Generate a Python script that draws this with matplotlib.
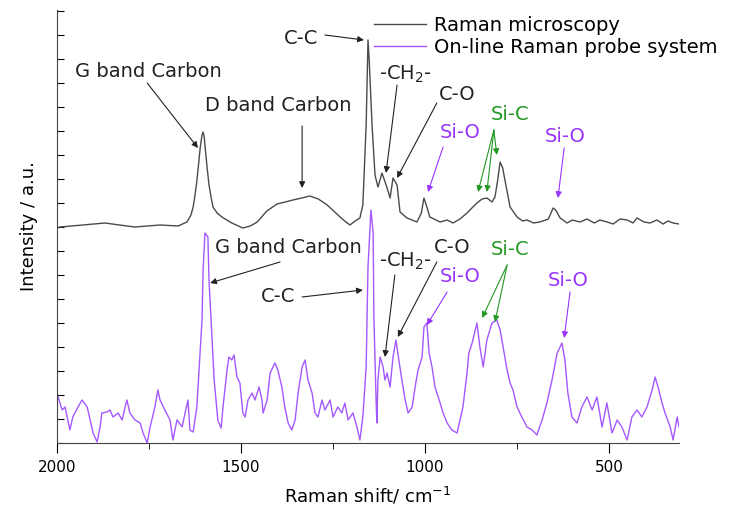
import matplotlib.pyplot as plt
from matplotlib.ticker import MultipleLocator

plt.rcParams['font.family'] = 'DejaVu Sans'

# Raman microscopy spectrum (offset upwards)
micro_shift = [1992, 1930, 1870, 1830, 1788, 1720, 1671, 1647, 1636, 1630, 1625, 1620,
               1615, 1611, 1606, 1603, 1600, 1596, 1592, 1587, 1580, 1576, 1565, 1552,
               1525, 1495, 1475, 1456, 1430, 1402, 1380, 1359, 1335, 1313, 1290, 1266,
               1248, 1231, 1215, 1204, 1190, 1177, 1169, 1160, 1155, 1152, 1144, 1136,
               1128, 1117, 1103, 1095, 1087, 1076, 1068, 1049, 1022, 1010, 1003, 995,
               987, 959, 940, 924, 905, 886, 870, 859, 845, 832, 818, 810, 803, 796,
               789, 783, 769, 750, 735, 723, 705, 688, 665, 652, 645, 633, 614, 600,
               579, 560, 540, 525, 505, 489, 470, 451, 435, 424, 405, 389, 370, 353,
               340, 326, 310]
micro_int = [216, 218, 220, 218, 216, 218, 217, 221, 228, 236, 248, 262,
             280, 295, 308, 311, 306, 290, 275, 258, 243, 236, 230, 226,
             220, 215, 217, 221, 232, 239, 241, 243, 245, 247, 244, 238,
             232, 226, 221, 218, 222, 225, 238, 318, 403, 385, 318, 268,
             256, 270, 255, 245, 265, 258, 231, 225, 221, 230, 245, 236,
             226, 221, 223, 220, 224, 230, 236, 240, 244, 245, 241, 246, 262, 281,
             275, 263, 236, 226, 222, 223, 220, 221, 224, 235, 233, 225, 220, 223,
             221, 224, 220, 223, 221, 219, 224, 223, 220, 225, 221, 220, 223, 219,
             222, 220, 219]

# On-line Raman probe spectrum
probe_shift = [1997, 1986, 1978, 1965, 1957, 1943, 1932, 1918, 1910, 1902, 1891, 1883,
               1878, 1864, 1856, 1848, 1834, 1823, 1815, 1810, 1802, 1788, 1774, 1766,
               1755, 1747, 1734, 1726, 1720, 1707, 1693, 1685, 1674, 1660, 1652, 1644,
               1639, 1630, 1620, 1614, 1606, 1603, 1598, 1590, 1587, 1579, 1573, 1563,
               1554, 1549, 1538, 1533, 1525, 1519, 1511, 1503, 1495, 1489, 1481, 1470,
               1462, 1451, 1443, 1440, 1429, 1421, 1408, 1400, 1389, 1381, 1372, 1362,
               1353, 1345, 1334, 1326, 1318, 1307, 1299, 1291, 1280, 1272, 1258, 1250,
               1237, 1226, 1218, 1209, 1196, 1185, 1177, 1169, 1160, 1155, 1147, 1141,
               1139, 1133, 1131, 1128, 1122, 1114, 1109, 1103, 1095, 1087, 1079, 1074,
               1063, 1054, 1046, 1035, 1027, 1019, 1008, 1003, 995, 989, 981, 973,
               959, 951, 940, 927, 913, 905, 897, 886, 881, 872, 859, 851,
               842, 832, 818, 805, 796, 788, 777, 769, 761, 750, 737, 723,
               709, 696, 682, 669, 655, 641, 628, 620, 612, 601, 587, 574,
               560, 546, 533, 519, 506, 492, 478, 465, 451, 438, 424, 411,
               397, 383, 375, 367, 356, 348, 334, 326, 315, 310]
probe_int = [46, 33, 36, 13, 26, 36, 43, 36, 23, 10, 1, 16,
             30, 31, 33, 26, 30, 23, 36, 43, 30, 23, 20, 10,
             0, 16, 36, 53, 43, 33, 23, 3, 23, 16, 30, 43,
             13, 11, 36, 73, 123, 173, 210, 206, 163, 106, 63, 23,
             15, 36, 73, 86, 83, 88, 66, 60, 30, 26, 43, 50,
             43, 56, 43, 30, 43, 70, 80, 73, 56, 36, 20, 13,
             23, 50, 76, 83, 63, 50, 30, 26, 43, 33, 43, 26,
             36, 30, 40, 23, 30, 16, 3, 26, 76, 176, 233, 210,
             126, 43, 20, 63, 86, 76, 63, 70, 56, 86, 103, 90,
             63, 43, 30, 36, 56, 73, 86, 116, 120, 90, 76, 56,
             40, 30, 20, 13, 10, 23, 36, 70, 90, 100, 120, 96,
             76, 103, 120, 123, 113, 96, 73, 60, 53, 36, 26, 16,
             13, 8, 23, 40, 63, 90, 100, 83, 50, 26, 20, 36,
             46, 33, 46, 16, 40, 10, 23, 16, 3, 26, 33, 26,
             36, 53, 66, 56, 40, 30, 16, 3, 26, 16]

# peak labels: text, text position, arrow tails and heads
BLACK = '#222222'
GREEN = '#229922'
PURPLE = '#9933ff'
labels = ['G band Carbon', 'D band Carbon', 'C-C', '-CH$_2$-', 'C-O', 'Si-O', 'Si-C', 'Si-O',
          'G band Carbon', 'C-C', '-CH$_2$-', 'C-O', 'Si-O', 'Si-C', 'Si-O']
label_colors = [BLACK, BLACK, BLACK, BLACK, BLACK, PURPLE, GREEN, PURPLE,
                BLACK, BLACK, BLACK, BLACK, PURPLE, GREEN, PURPLE]
label_pos = [(1753, 371), (1400, 337), (1337, 404), (1054, 369), (913, 348), (905, 310),
             (769, 328), (620, 306),
             (1372, 195), (1400, 146), (1054, 182), (927, 195), (905, 167), (769, 193),
             (612, 163)]
arrows = [
    [((1755, 360), (1617, 295))],
    [((1334, 317), (1334, 255))],
    [((1272, 408), (1166, 403))],
    [((1076, 358), (1106, 270))],
    [((968, 340), (1076, 265))],
    [((951, 296), (992, 251))],
    [((813, 313), (856, 251)), ((813, 313), (832, 251)), ((813, 313), (805, 288))],
    [((622, 295), (639, 245))],
    [((1394, 181), (1584, 160))],
    [((1334, 146), (1169, 153))],
    [((1082, 168), (1109, 86))],
    [((968, 181), (1074, 106))],
    [((940, 151), (995, 118))],
    [((777, 178), (845, 125)), ((777, 178), (810, 121))],
    [((606, 151), (622, 105))],
]

fig = plt.figure(figsize=(7.38, 5.14), dpi=100)
ax = fig.add_axes([57 / 738, 71 / 514, 622 / 738, 433 / 514])

ax.plot(micro_shift, micro_int, color='#4a4a4a', lw=1.0, label='Raman microscopy')
ax.plot(probe_shift, probe_int, color='#a458ff', lw=1.0, label='On-line Raman probe system')

for text, col, pos, arrs in zip(labels, label_colors, label_pos, arrows):
    ax.text(pos[0], pos[1], text, color=col, fontsize=14, ha='center', va='center')
    for tail, head in arrs:
        ax.annotate('', xy=head, xytext=tail,
                    arrowprops=dict(arrowstyle='-|>', color=col, lw=0.8,
                                    mutation_scale=9, shrinkA=0, shrinkB=0))

ax.set_xlim(2000, 310)
ax.set_ylim(0, 433)
ax.xaxis.set_major_locator(MultipleLocator(500))
ax.xaxis.set_minor_locator(MultipleLocator(250))
ax.yaxis.set_major_locator(MultipleLocator(24))
ax.tick_params(axis='x', which='major', direction='out', length=7, labelsize=11, pad=5)
ax.tick_params(axis='x', which='minor', direction='out', length=4)
ax.tick_params(axis='y', direction='in', length=5, labelleft=False)
for side in ['top', 'right']:
    ax.spines[side].set_visible(False)
ax.spines['left'].set_color('#444444')
ax.spines['bottom'].set_color('#444444')

ax.set_xlabel('Raman shift/ cm$^{-1}$', fontsize=13, labelpad=8)
ax.set_ylabel('Intensity / a.u.', fontsize=13, labelpad=14)

ax.legend(loc='upper left', bbox_to_anchor=(372 / 738, 1 - 14 / 514),
          bbox_transform=fig.transFigure,
          frameon=False, fontsize=14, handlelength=2.7, handletextpad=0.4,
          labelspacing=0.15, borderpad=0.1, borderaxespad=0)

fig.savefig('out.png', dpi=100)
